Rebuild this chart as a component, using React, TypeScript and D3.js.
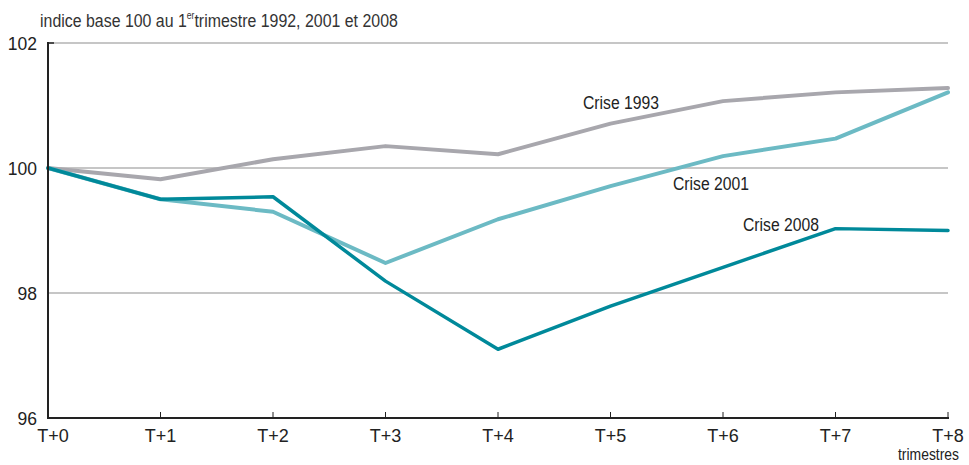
import * as d3 from "d3";
import { useEffect } from "react";

const quarters = ["T+0", "T+1", "T+2", "T+3", "T+4", "T+5", "T+6", "T+7", "T+8"];
const crise1993 = [100, 99.82, 100.14, 100.35, 100.22, 100.71, 101.07, 101.21, 101.28];
const crise2001 = [100, 99.5, 99.3, 98.48, 99.18, 99.71, 100.19, 100.47, 101.21];
const crise2008 = [100, 99.5, 99.54, 98.19, 97.1, 97.79, 98.41, 99.03, 99.0];
const yTicks = [96, 98, 100, 102];

const series = [
  { name: "Crise 1993", values: crise1993, color: "#a8a7ad", width: 4, label: [583, 109] },
  { name: "Crise 2001", values: crise2001, color: "#6cbac4", width: 4, label: [673, 190] },
  { name: "Crise 2008", values: crise2008, color: "#00899a", width: 3.5, label: [743, 231] },
];

const W = 969;
const H = 465;
const font = "'Liberation Sans', Arial, sans-serif";
const ink = "#222";

export default function App() {
  useEffect(() => {
    document.body.style.margin = "0";
  }, []);

  const x = d3.scalePoint<string>().domain(quarters).range([48, 948]);
  const y = d3.scaleLinear().domain([96, 102]).range([418, 43]);

  const line = d3
    .line<number>()
    .x((_, i) => x(quarters[i]) as number)
    .y((d) => y(d));

  return (
    <svg width={W} height={H} style={{ display: "block", background: "#fff" }} fontFamily={font}>
      {/* sous-titre */}
      <text transform="translate(40,27) scale(0.86,1)" fontSize={18.5} fill="#333">
        indice base 100 au 1
        <tspan fontSize={10} dy={-8}>er</tspan>
        <tspan dy={8}>trimestre 1992, 2001 et 2008</tspan>
      </text>

      {/* grille */}
      {yTicks.filter((t) => t !== 96).map((t) => (
        <line key={t} x1={48} x2={948} y1={y(t)} y2={y(t)} stroke="#b3b3b3" strokeWidth={1.3} />
      ))}
      {yTicks.map((t) => (
        <text key={"l" + t} x={37} y={y(t) + 7} textAnchor="end" fontSize={17.5} fill={ink}>
          {t}
        </text>
      ))}

      {/* séries */}
      {series.map((s) => (
        <path
          key={s.name}
          d={line(s.values) as string}
          fill="none"
          stroke={s.color}
          strokeWidth={s.width}
          strokeLinejoin="round"
          strokeLinecap="round"
        />
      ))}
      {series.map((s) => (
        <text
          key={"t" + s.name}
          x={s.label[0]}
          y={s.label[1]}
          fontSize={18}
          fill={ink}
          textLength={76}
          lengthAdjust="spacingAndGlyphs"
        >
          {s.name}
        </text>
      ))}

      {/* axes */}
      <line x1={48} x2={48} y1={42} y2={419} stroke={ink} strokeWidth={2} />
      <line x1={48} x2={54} y1={43} y2={43} stroke={ink} strokeWidth={1.5} />
      <line x1={47} x2={949} y1={418} y2={418} stroke={ink} strokeWidth={2} />
      {quarters.map((q, i) => (
        <g key={q}>
          <line x1={x(q)} x2={x(q)} y1={412} y2={418} stroke={ink} strokeWidth={1} />
          <text
            x={(x(q) as number) + (i === 0 ? 5 : 0)}
            y={442}
            textAnchor="middle"
            fontSize={18}
            fill={ink}
          >
            {q}
          </text>
        </g>
      ))}
      <text
        x={898}
        y={460}
        fontSize={16}
        fill={ink}
        textLength={61}
        lengthAdjust="spacingAndGlyphs"
      >
        trimestres
      </text>
    </svg>
  );
}
